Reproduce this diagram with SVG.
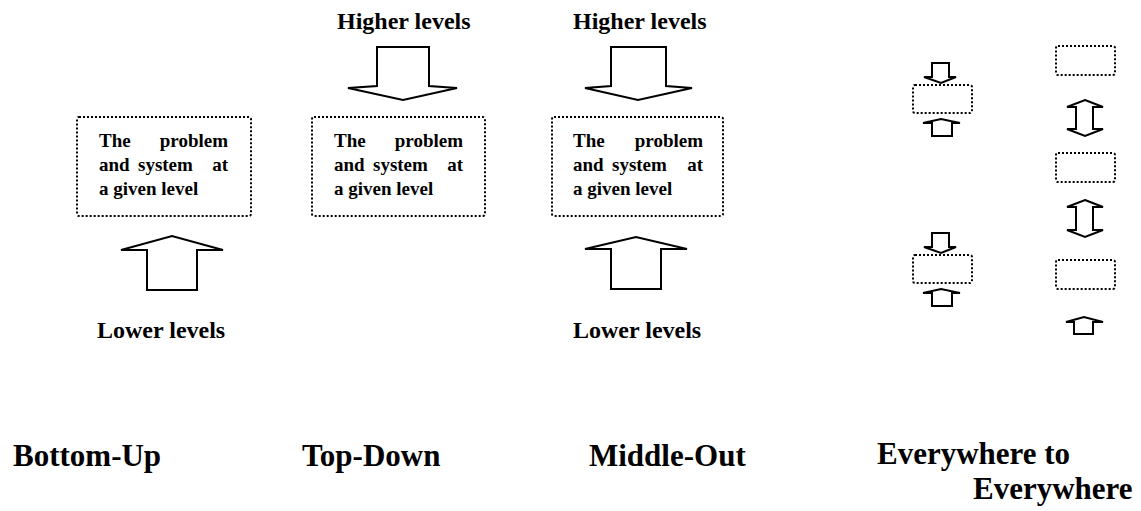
<svg xmlns="http://www.w3.org/2000/svg" width="1141" height="511" viewBox="0 0 1141 511">
<style>
.box{fill:none;stroke:#000;stroke-width:2;stroke-dasharray:2 2}
.arr{fill:#fff;stroke:#000;stroke-width:2;stroke-linejoin:miter}
.t{font-family:"Liberation Serif","Times New Roman",serif;font-weight:bold;fill:#000}
.bt{font-size:19px}
.lv{font-size:24px}
.ti{font-size:31px}
</style>
<rect width="1141" height="511" fill="#fff"/>
<g id="connectors">
<polygon class="arr" points="147,290 147,250 121,250 172,236 223,250 197,250 197,290"/>
<polygon class="arr" points="377,47 377,86 348,88 403,100 457,88 429,86 429,47"/>
<polygon class="arr" points="611,47 611,86 585,88 638,100 692,88 666,86 666,47"/>
<polygon class="arr" points="611,289 611,249 585,249 636,237 687,249 661,249 661,289"/>
<polygon class="arr" points="932,63 932,77 924,77 941,83 956,77 949,77 949,63"/>
<polygon class="arr" points="932,136 932,123 923,123 941,119 960,123 952,123 952,136"/>
<polygon class="arr" points="932,233 932,247 924,247 941,253 956,247 949,247 949,233"/>
<polygon class="arr" points="932,306 932,293 923,293 941,289 960,293 952,293 952,306"/>
<polygon class="arr" points="1085,100 1103,107 1093,107 1093,129 1103,129 1085,136 1067,129 1076,129 1076,107 1067,107"/>
<polygon class="arr" points="1085,200 1103,207 1093,207 1093,230 1103,230 1085,237 1067,230 1076,230 1076,207 1067,207"/>
<polygon class="arr" points="1074,334 1074,322 1066,322 1084,317 1103,322 1093,322 1093,334"/>
</g>
<g id="node-bu">
<rect class="box" x="77" y="117" width="174" height="99" rx="2"/>
<text class="t bt" x="99" y="147">The</text><text class="t bt" x="228" y="147" text-anchor="end">problem</text>
<text class="t bt" x="99" y="171">and</text><text class="t bt" x="138" y="171">system</text><text class="t bt" x="228" y="171" text-anchor="end">at</text>
<text class="t bt" x="99" y="195">a given level</text>
</g>
<g id="node-td">
<rect class="box" x="312" y="117" width="173" height="99" rx="2"/>
<text class="t bt" x="334" y="147">The</text><text class="t bt" x="463" y="147" text-anchor="end">problem</text>
<text class="t bt" x="334" y="171">and</text><text class="t bt" x="373" y="171">system</text><text class="t bt" x="463" y="171" text-anchor="end">at</text>
<text class="t bt" x="334" y="195">a given level</text>
</g>
<g id="node-mo">
<rect class="box" x="552" y="117" width="171" height="99" rx="2"/>
<text class="t bt" x="573" y="147">The</text><text class="t bt" x="703" y="147" text-anchor="end">problem</text>
<text class="t bt" x="573" y="171">and</text><text class="t bt" x="612" y="171">system</text><text class="t bt" x="703" y="171" text-anchor="end">at</text>
<text class="t bt" x="573" y="195">a given level</text>
</g>
<g id="node-e1"><rect class="box" x="913" y="85" width="59" height="28" rx="2"/></g>
<g id="node-e2"><rect class="box" x="913" y="255" width="59" height="28" rx="2"/></g>
<g id="node-e3"><rect class="box" x="1056" y="46" width="59" height="29" rx="2"/></g>
<g id="node-e4"><rect class="box" x="1056" y="153" width="59" height="29" rx="2"/></g>
<g id="node-e5"><rect class="box" x="1056" y="260" width="59" height="29" rx="2"/></g>
<g id="labels">
<text class="t lv" x="337" y="29">Higher levels</text>
<text class="t lv" x="573" y="29">Higher levels</text>
<text class="t lv" x="97" y="338">Lower levels</text>
<text class="t lv" x="573" y="338">Lower levels</text>
<text class="t ti" x="13" y="466">Bottom-Up</text>
<text class="t ti" x="302" y="466">Top-Down</text>
<text class="t ti" x="589" y="466">Middle-Out</text>
<text class="t ti" x="877" y="464">Everywhere to</text>
<text class="t ti" x="973" y="499">Everywhere</text>
</g>
</svg>
